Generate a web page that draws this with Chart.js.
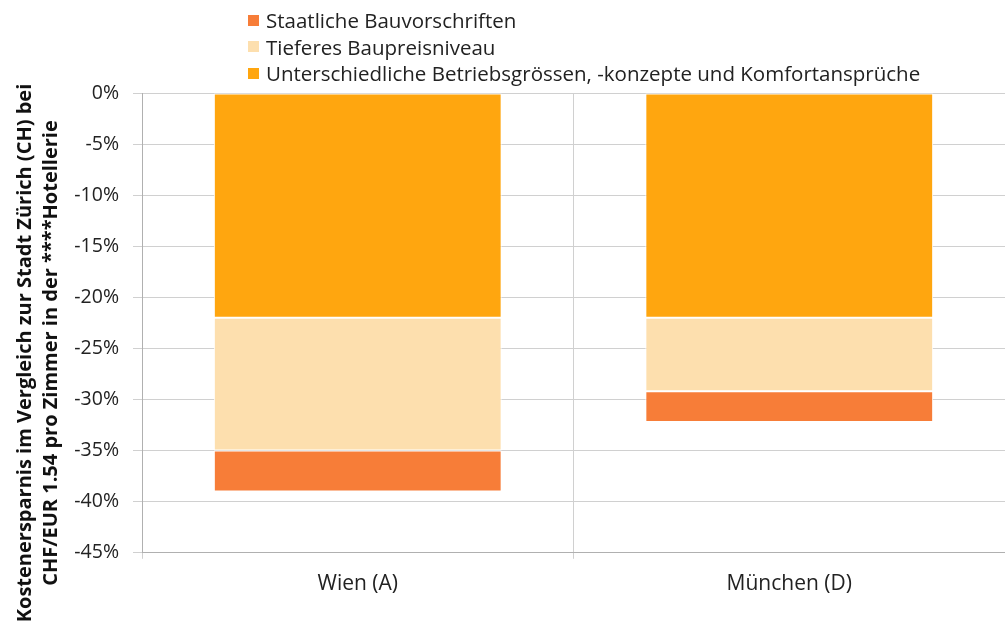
<!DOCTYPE html>
<html>
<head>
<meta charset="utf-8">
<script src="https://cdn.jsdelivr.net/npm/chart.js@4/dist/chart.umd.min.js"></script>
<style>
html,body{margin:0;padding:0;background:#fff;}
#wrap{position:relative;width:1005px;height:628px;overflow:hidden;}
#legend{position:absolute;left:248px;top:7px;font-family:"Open Sans",sans-serif;font-size:20.5px;color:#222;line-height:26.5px;}
#legend div{display:flex;align-items:center;white-space:nowrap;}
#legend span.box{display:inline-block;width:11px;height:11px;margin-right:7px;}
#ytitle{position:absolute;width:640px;height:52px;left:-283px;top:327px;transform:rotate(-90deg);transform-origin:50% 50%;
  font-family:"Open Sans",sans-serif;font-weight:bold;font-size:20px;line-height:26px;color:#111;text-align:center;white-space:nowrap;}
</style>
</head>
<body>
<div id="wrap">
<canvas id="c" width="1005" height="628"></canvas>
<div id="legend"></div>
<div id="ytitle"></div>
</div>
<script>
const categories = ["Wien (A)", "München (D)"];
const seriesNames = ["Unterschiedliche Betriebsgrössen, -konzepte und Komfortansprüche", "Tieferes Baupreisniveau", "Staatliche Bauvorschriften"];
const betrieb = [-22, -22];
const baupreis = [-13, -7.2];
const vorschriften = [-4, -3];
const colors = ["#FFA60F", "#FDDFAE", "#F77D38"];
const yTicks = [0, -5, -10, -15, -20, -25, -30, -35, -40, -45];
const yTitleLines = ["Kostenersparnis im Vergleich zur Stadt Zürich (CH) bei", "CHF/EUR 1.54 pro Zimmer in der ****Hotellerie"];

const values = [betrieb, baupreis, vorschriften];
const datasets = seriesNames.map((n, i) => ({
  label: n,
  data: values[i],
  backgroundColor: colors[i],
  borderColor: "#ffffff",
  borderWidth: 1,
  borderSkipped: false,
  barPercentage: 0.667,
  categoryPercentage: 1.0
}));

const font = "'Open Sans', sans-serif";
const chart = new Chart(document.getElementById("c"), {
  type: "bar",
  data: { labels: categories, datasets },
  options: {
    responsive: false,
    animation: false,
    layout: { padding: { top: 93, right: 0, bottom: 18, left: 0 } },
    plugins: { legend: { display: false }, tooltip: { enabled: false } },
    scales: {
      x: {
        stacked: true,
        grid: { color: "#d0d0d0", offset: true, drawTicks: true, tickLength: 6 },
        border: { color: "#b0b0b0" },
        ticks: { color: "#222", font: { family: font, size: 21 }, padding: 13 }
      },
      y: {
        stacked: true,
        min: -45, max: 0,
        afterBuildTicks: (s) => { s.ticks = yTicks.map(v => ({ value: v })); },
        afterFit: (s) => { s.width = 142; },
        grid: { color: "#d0d0d0", tickLength: 9 },
        border: { color: "#b0b0b0" },
        ticks: { color: "#222", font: { family: font, size: 19.5 }, padding: 14,
          callback: (v) => v + "%" },
        title: { display: false }
      }
    }
  }
});

const leg = document.getElementById("legend");
[2, 1, 0].forEach(i => {
  const d = document.createElement("div");
  d.innerHTML = '<span class="box" style="background:' + colors[i] + '"></span>' + seriesNames[i];
  leg.appendChild(d);
});
const yt = document.getElementById("ytitle");
yTitleLines.forEach(t => {
  const d = document.createElement("div");
  d.textContent = t;
  yt.appendChild(d);
});
</script>
</body>
</html>
